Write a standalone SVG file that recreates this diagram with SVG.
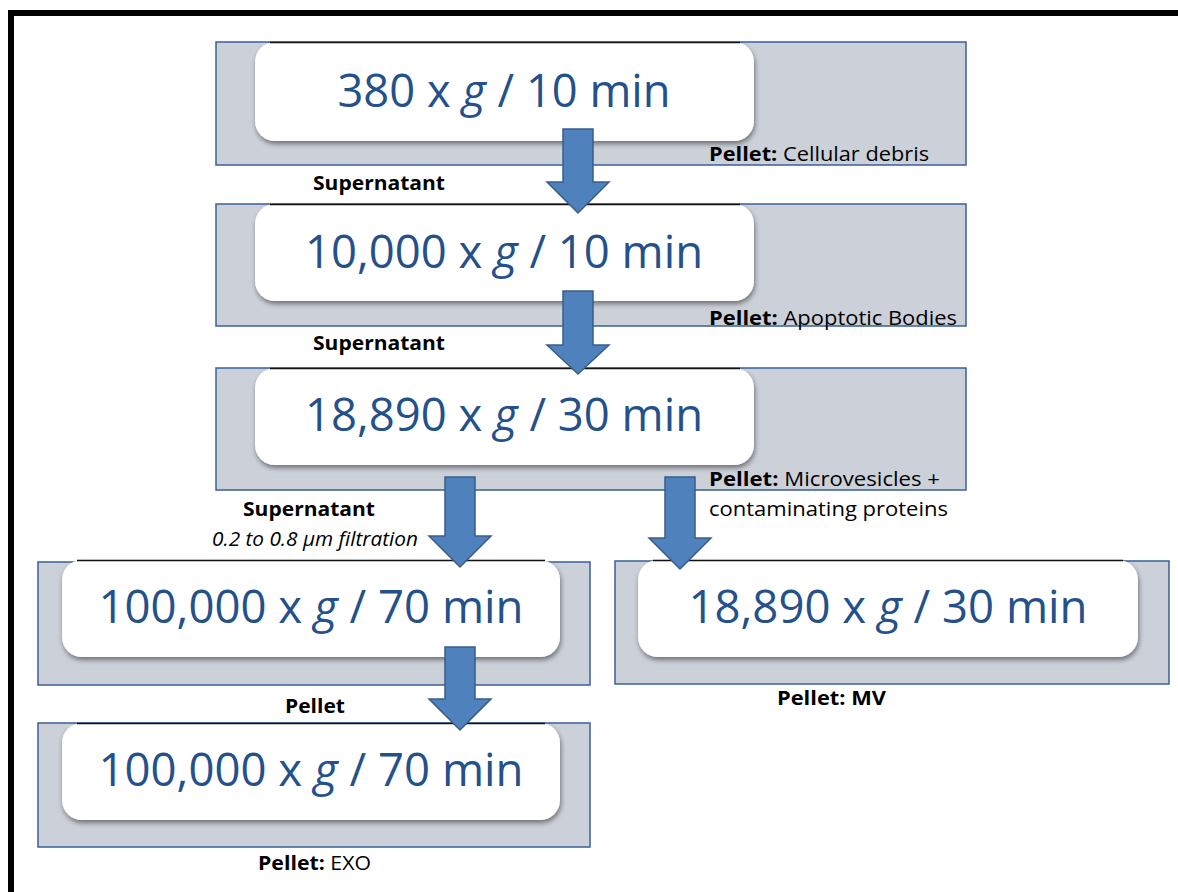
<svg xmlns="http://www.w3.org/2000/svg" width="1178" height="892" viewBox="0 0 1178 892">
<defs>
<filter id="sh" x="-5%" y="-10%" width="110%" height="130%">
<feDropShadow dx="1" dy="3" stdDeviation="2.5" flood-color="#000" flood-opacity="0.45"/>
</filter>
</defs>
<style>
.outer{fill:#cbd0d9;stroke:#3a6096;stroke-width:1.5}
.inner{fill:#ffffff;filter:url(#sh)}
.topline{fill:none;stroke:#111;stroke-width:1.5}
.big{font-family:"Open Sans","Noto Sans",sans-serif;font-size:45px;fill:#24518a;text-anchor:middle}
.lab{font-family:"Open Sans","Noto Sans",sans-serif;font-size:19.5px;fill:#000}
.b{font-weight:bold}
.arrow{fill:#4f81bd;stroke:#385d8a;stroke-width:1.5}
</style>
<rect width="1178" height="892" fill="#ffffff"/>
<path d="M11,895 V13 H1182" fill="none" stroke="#000" stroke-width="6"/>

<g id="node1">
<rect class="outer" x="216" y="42" width="750" height="123"/>
<rect class="inner" x="255" y="42" width="499" height="99" rx="20"/>
<path class="topline" d="M270,42.5 H740"/>
<text class="big" x="504" y="107" textLength="333" lengthAdjust="spacingAndGlyphs">380 x <tspan font-style="italic">g</tspan> / 10 min</text>
<text class="lab" x="709" y="161" textLength="220" lengthAdjust="spacingAndGlyphs"><tspan class="b">Pellet:</tspan> Cellular debris</text>
</g>

<g id="node2">
<rect class="outer" x="216" y="204" width="750" height="122"/>
<rect class="inner" x="255" y="204" width="499" height="97" rx="20"/>
<path class="topline" d="M270,204.5 H740"/>
<text class="big" x="504" y="268" textLength="398" lengthAdjust="spacingAndGlyphs">10,000 x <tspan font-style="italic">g</tspan> / 10 min</text>
<text class="lab" x="709" y="325" textLength="248" lengthAdjust="spacingAndGlyphs"><tspan class="b">Pellet:</tspan> Apoptotic Bodies</text>
</g>

<g id="node3">
<rect class="outer" x="216" y="368" width="750" height="122"/>
<rect class="inner" x="255" y="368" width="499" height="97" rx="20"/>
<path class="topline" d="M270,368.5 H740"/>
<text class="big" x="504" y="431" textLength="398" lengthAdjust="spacingAndGlyphs">18,890 x <tspan font-style="italic">g</tspan> / 30 min</text>
<text class="lab" x="709" y="486" textLength="231" lengthAdjust="spacingAndGlyphs"><tspan class="b">Pellet:</tspan> Microvesicles +</text>
<text class="lab" x="709" y="516" textLength="239" lengthAdjust="spacingAndGlyphs">contaminating proteins</text>
</g>

<g id="node4">
<rect class="outer" x="38" y="562" width="552" height="123"/>
<rect class="inner" x="62" y="560" width="498" height="97" rx="20"/>
<path class="topline" d="M77,560.5 H545"/>
<text class="big" x="311" y="623" textLength="425" lengthAdjust="spacingAndGlyphs">100,000 x <tspan font-style="italic">g</tspan> / 70 min</text>
</g>

<g id="node5">
<rect class="outer" x="615" y="561" width="554" height="123"/>
<rect class="inner" x="638" y="560" width="500" height="97" rx="20"/>
<path class="topline" d="M653,560.5 H1123"/>
<text class="big" x="888" y="623" textLength="399" lengthAdjust="spacingAndGlyphs">18,890 x <tspan font-style="italic">g</tspan> / 30 min</text>
<text class="lab" x="777" y="705" textLength="109" lengthAdjust="spacingAndGlyphs"><tspan class="b">Pellet: MV</tspan></text>
</g>

<g id="node6">
<rect class="outer" x="38" y="723" width="552" height="124"/>
<rect class="inner" x="62" y="723" width="498" height="97" rx="20"/>
<path class="topline" d="M77,723.5 H545"/>
<text class="big" x="311" y="786" textLength="425" lengthAdjust="spacingAndGlyphs">100,000 x <tspan font-style="italic">g</tspan> / 70 min</text>
<text class="lab" x="258" y="870" textLength="113" lengthAdjust="spacingAndGlyphs"><tspan class="b">Pellet:</tspan> EXO</text>
</g>

<g id="connectors">
<path class="arrow" d="M563,129 H593 V182 H609 L578,213 L547,182 H563 Z"/>
<path class="arrow" d="M563,291 H593 V345 H609 L578,374 L547,345 H563 Z"/>
<path class="arrow" d="M445,477 H475 V536 H491 L460,567 L429,536 H445 Z"/>
<path class="arrow" d="M665,477 H695 V538 H711 L680,569 L649,538 H665 Z"/>
<path class="arrow" d="M445,647 H475 V699 H491 L460,730 L429,699 H445 Z"/>
<text class="lab b" x="313" y="190" textLength="132" lengthAdjust="spacingAndGlyphs">Supernatant</text>
<text class="lab b" x="313" y="350" textLength="132" lengthAdjust="spacingAndGlyphs">Supernatant</text>
<text class="lab b" x="243" y="516" textLength="132" lengthAdjust="spacingAndGlyphs">Supernatant</text>
<text class="lab" x="212" y="546" font-size="16.5" font-style="italic" textLength="206" lengthAdjust="spacingAndGlyphs">0.2 to 0.8 µm filtration</text>
<text class="lab b" x="285" y="713" textLength="60" lengthAdjust="spacingAndGlyphs">Pellet</text>
</g>
</svg>
